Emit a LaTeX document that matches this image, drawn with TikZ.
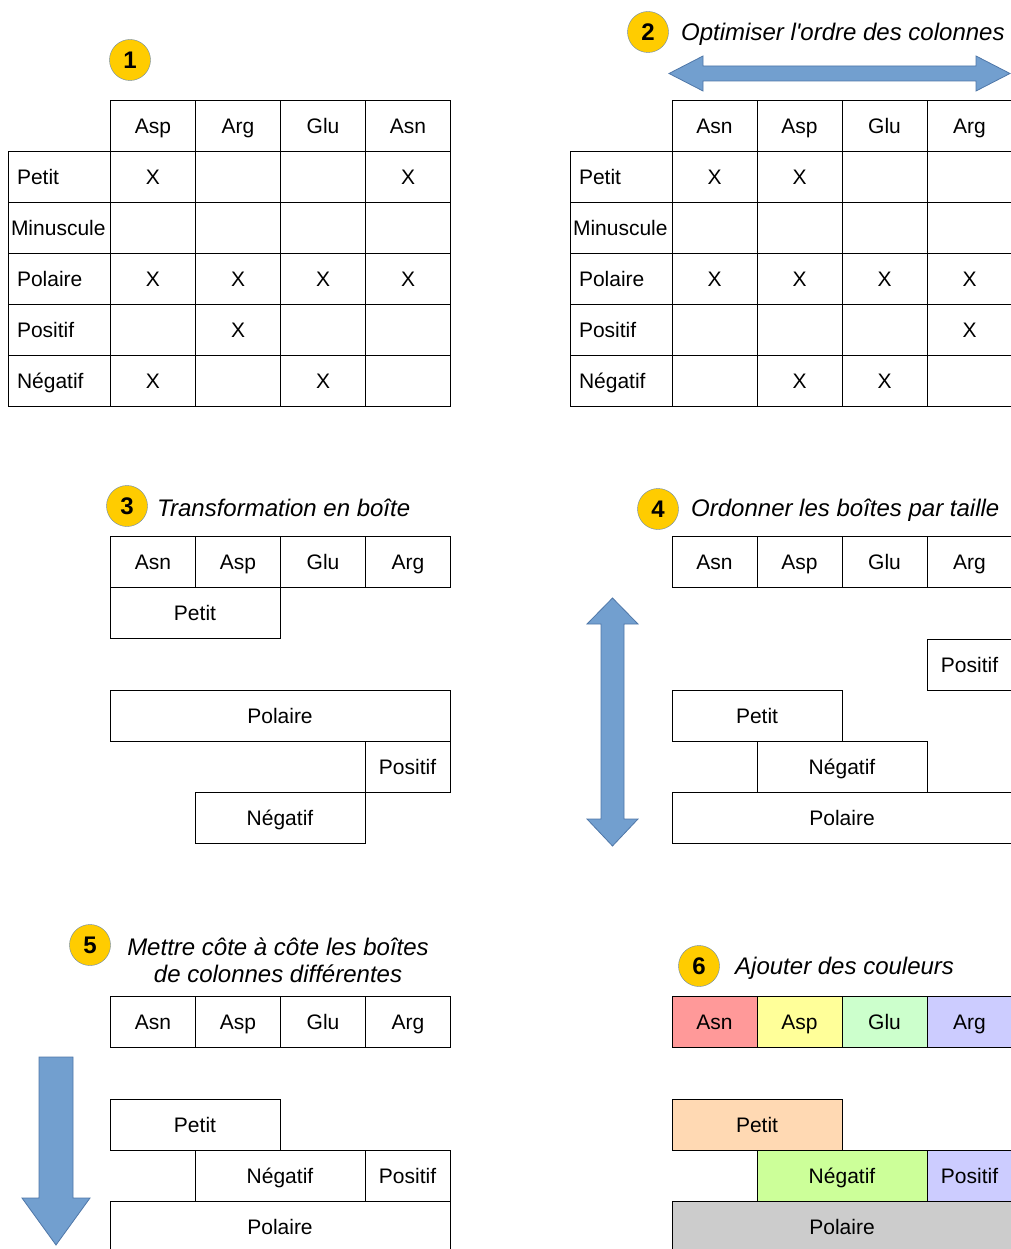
\documentclass[tikz,border=0pt]{standalone}
\usepackage{fontspec}
\setmainfont{Liberation Sans}
\usetikzlibrary{positioning}
\definecolor{gold}{HTML}{FFCC00}
\definecolor{ringblue}{HTML}{6A87A8}
\definecolor{arrowfill}{HTML}{729FCF}
\definecolor{arrowline}{HTML}{4F77A8}
\definecolor{cAsn}{HTML}{FF9999}
\definecolor{cAsp}{HTML}{FFFF99}
\definecolor{cGlu}{HTML}{CCFFCC}
\definecolor{cArg}{HTML}{CCCCFF}
\definecolor{cPetit}{HTML}{FFD9B3}
\definecolor{cNeg}{HTML}{CCFF99}
\definecolor{cPol}{HTML}{CCCCCC}
\newcommand\cellfont{\fontsize{21}{25}\selectfont}
\newcommand\stepfont{\fontsize{24}{27}\selectfont\itshape}

\begin{document}
\begin{tikzpicture}[
    x=1pt, y=-1pt,
    cell/.style={draw, line width=0.9pt, minimum width=#1, minimum height=51pt, inner sep=0pt, text height=16.5pt, text depth=0pt, font=\cellfont},
    cell/.default=85pt,
    rowlab/.style={cell=102pt, text width=84pt, align=left, inner xsep=9pt},
    wide/.style={inner xsep=3pt, text width=96pt},
    plain/.style={},
    num/.style={circle, draw=ringblue, fill=gold, minimum size=41pt, inner sep=0pt, font=\fontsize{24}{27}\selectfont\bfseries},
    caption/.style={anchor=west, inner sep=0pt, font=\stepfont},
    bigarrow/.style={fill=arrowfill, draw=arrowline, line width=0.8pt}
]
\useasboundingbox (0,0) rectangle (1010,1249);

% 1 : property table
\node[num] (n1) at (130,60) {1};
\foreach \aa [count=\c] in {Asp,Arg,Glu,Asn}
  \node[cell] (ha\c) at (68+85*\c,125.5) {\aa};
\foreach \lab/\sty/\marks [count=\r] in {Petit/plain/{1,0,0,1},Minuscule/wide/{0,0,0,0},Polaire/plain/{1,1,1,1},Positif/plain/{0,1,0,0},Négatif/plain/{1,0,1,0}} {
  \node[rowlab,\sty] (ra\r) at (59,125.5+51*\r) {\lab};
  \foreach \m [count=\c] in \marks
    \node[cell] (ca\r\c) at (68+85*\c,125.5+51*\r) {\ifnum\m=1 X\fi};
}

% 2 : reordered columns
\node[num] (n2) at (648,32) {2};
\node[caption] (t2) at (681,34.5) {Optimiser l\textquotesingle ordre des colonnes};
\filldraw[bigarrow] (669,73.5) -- (703,56) -- (703,66) -- (976,66) -- (976,56) -- (1010,73.5)
  -- (976,91) -- (976,81) -- (703,81) -- (703,91) -- cycle;
\foreach \aa [count=\c] in {Asn,Asp,Glu,Arg}
  \node[cell] (hb\c) at (629.5+85*\c,125.5) {\aa};
\foreach \lab/\sty/\marks [count=\r] in {Petit/plain/{1,1,0,0},Minuscule/wide/{0,0,0,0},Polaire/plain/{1,1,1,1},Positif/plain/{0,0,0,1},Négatif/plain/{0,1,1,0}} {
  \node[rowlab,\sty] (rb\r) at (621,125.5+51*\r) {\lab};
  \foreach \m [count=\c] in \marks
    \node[cell] (cb\r\c) at (629.5+85*\c,125.5+51*\r) {\ifnum\m=1 X\fi};
}

% 3 : boxes
\node[num] (n3) at (127,506) {3};
\node[caption] (t3) at (157,507.5) {Transformation en boîte};
\foreach \aa [count=\c] in {Asn,Asp,Glu,Arg}
  \node[cell] (hc\c) at (68+85*\c,561.5) {\aa};
\node[cell=170pt] (petit3) at (195,612.5) {Petit};
\node[cell=340pt] (polaire3) at (280,715.5) {Polaire};
\node[cell] (positif3) at (407.5,766.5) {Positif};
\node[cell=170pt] (negatif3) at (280,817.5) {Négatif};

% 4 : boxes sorted by size
\node[num] (n4) at (658,509) {4};
\node[caption] (t4) at (691,510.5) {Ordonner les boîtes par taille};
\filldraw[bigarrow] (612.5,598) -- (638,624) -- (624,624) -- (624,819) -- (638,819) -- (612.5,846)
  -- (587,819) -- (601,819) -- (601,624) -- (587,624) -- cycle;
\foreach \aa [count=\c] in {Asn,Asp,Glu,Arg}
  \node[cell] (hd\c) at (629.5+85*\c,561.5) {\aa};
\node[cell] (positif4) at (969.5,664.5) {Positif};
\node[cell=170pt] (petit4) at (757,715.5) {Petit};
\node[cell=170pt] (negatif4) at (842,766.5) {Négatif};
\node[cell=340pt] (polaire4) at (842,817.5) {Polaire};

% 5 : boxes side by side
\node[num] (n5) at (90,945) {5};
\node[caption, anchor=center, align=center] (t5) at (278,960.5) {Mettre côte à côte les boîtes\\de colonnes différentes};
\filldraw[bigarrow] (39,1057) -- (73,1057) -- (73,1198) -- (90,1198) -- (56,1245) -- (22,1198)
  -- (39,1198) -- cycle;
\foreach \aa [count=\c] in {Asn,Asp,Glu,Arg}
  \node[cell] (he\c) at (68+85*\c,1021.5) {\aa};
\node[cell=170pt] (petit5) at (195,1124.5) {Petit};
\node[cell=170pt] (negatif5) at (280,1175.5) {Négatif};
\node[cell] (positif5) at (407.5,1175.5) {Positif};
\node[cell=340pt] (polaire5) at (280,1226.5) {Polaire};

% 6 : colours
\node[num] (n6) at (699,966) {6};
\node[caption] (t6) at (735,968) {Ajouter des couleurs};
\foreach \aa [count=\c] in {Asn,Asp,Glu,Arg}
  \node[cell, fill=c\aa] (hf\c) at (629.5+85*\c,1021.5) {\aa};
\node[cell=170pt, fill=cPetit] (petit6) at (757,1124.5) {Petit};
\node[cell=170pt, fill=cNeg] (negatif6) at (842,1175.5) {Négatif};
\node[cell, fill=cArg] (positif6) at (969.5,1175.5) {Positif};
\node[cell=340pt, fill=cPol] (polaire6) at (842,1226.5) {Polaire};
\end{tikzpicture}
\end{document}
